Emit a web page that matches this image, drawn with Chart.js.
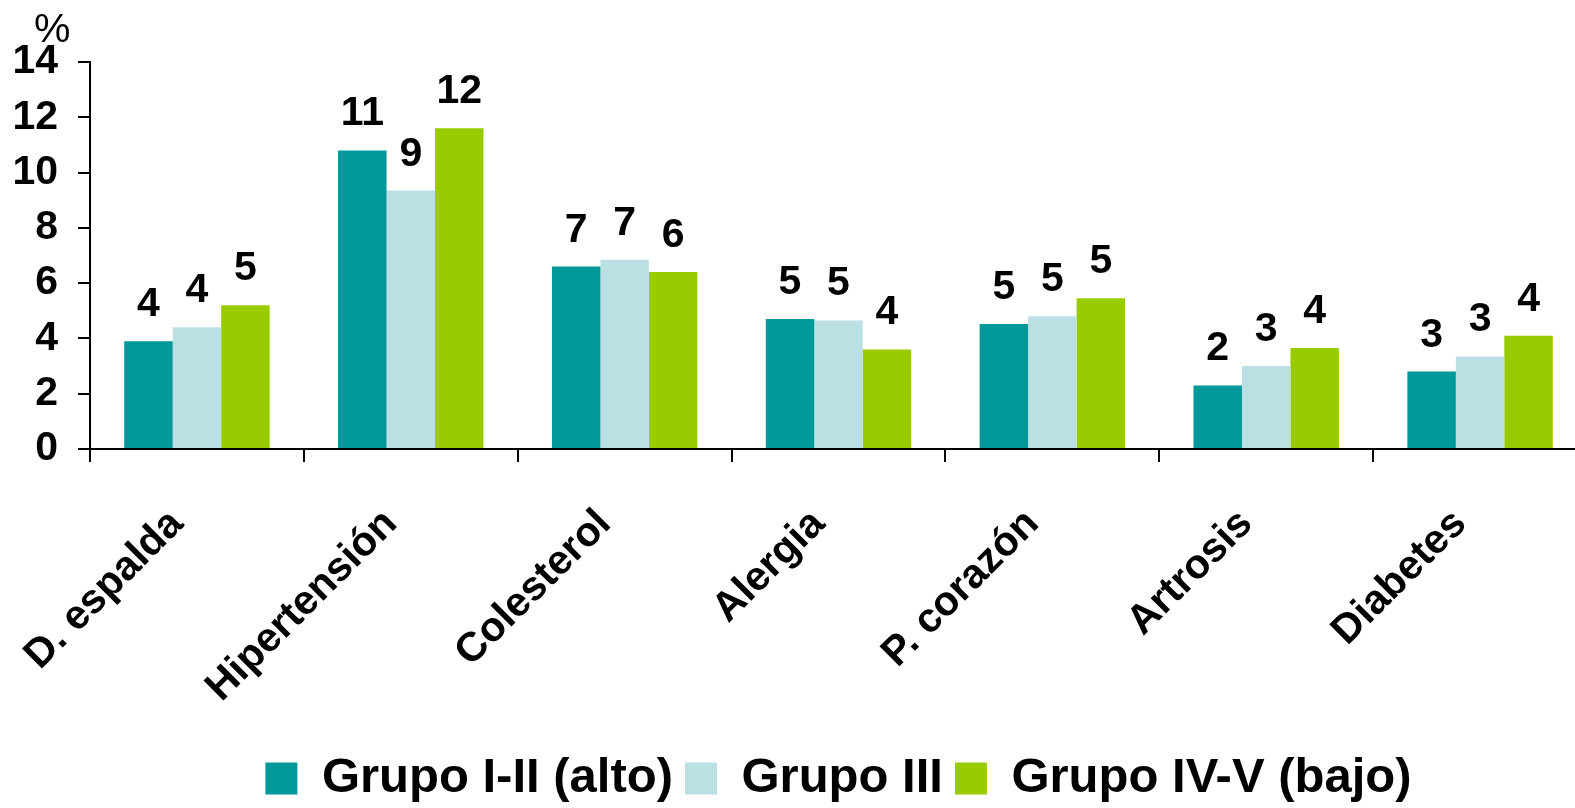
<!DOCTYPE html>
<html>
<head>
<meta charset="utf-8">
<style>
html,body{margin:0;padding:0;overflow:hidden;background:#fff;}
canvas{display:block;}
</style>
<script src="https://cdn.jsdelivr.net/npm/chart.js@4.4.1/dist/chart.umd.min.js"></script>
</head>
<body>
<canvas id="c" width="1587" height="808"></canvas>
<script>
const categories = ['D. espalda', 'Hipertensión', 'Colesterol', 'Alergia', 'P. corazón', 'Artrosis', 'Diabetes'];
const seriesNames = ['Grupo I-II (alto)', 'Grupo III', 'Grupo IV-V (bajo)'];
const grupoAlto  = [3.9, 10.8, 6.6, 4.7, 4.52, 2.3, 2.8];
const grupoMedio = [4.4, 9.35, 6.85, 4.65, 4.8, 3.0, 3.35];
const grupoBajo  = [5.2, 11.6, 6.4, 3.6, 5.45, 3.65, 4.1];
const yTicks = [0, 2, 4, 6, 8, 10, 12, 14];

const FONT = '"Liberation Sans", Arial, Helvetica, sans-serif';
Chart.defaults.color = '#000';

const valueLabels = {
  id: 'valueLabels',
  afterDatasetsDraw(chart) {
    const ctx = chart.ctx;
    ctx.save();
    ctx.font = 'bold 41px ' + FONT;
    ctx.fillStyle = '#000';
    ctx.textAlign = 'center';
    ctx.textBaseline = 'alphabetic';
    chart.data.datasets.forEach((ds, i) => {
      const meta = chart.getDatasetMeta(i);
      meta.data.forEach((bar, j) => {
        ctx.fillText(String(Math.round(ds.data[j])), bar.x, bar.y - 25);
      });
    });
    ctx.restore();
  }
};

const unitLabel = {
  id: 'unitLabel',
  afterDraw(chart) {
    const ctx = chart.ctx;
    ctx.save();
    ctx.font = '41px ' + FONT;
    ctx.fillStyle = '#000';
    ctx.textAlign = 'left';
    ctx.textBaseline = 'alphabetic';
    ctx.fillText('%', chart.scales.y.left + 34, 42);
    ctx.restore();
  }
};

new Chart(document.getElementById('c').getContext('2d'), {
  type: 'bar',
  data: {
    labels: categories,
    datasets: [
      { label: seriesNames[0], data: grupoAlto,  backgroundColor: '#009999', borderWidth: 0 },
      { label: seriesNames[1], data: grupoMedio, backgroundColor: '#BBE0E3', borderWidth: 0 },
      { label: seriesNames[2], data: grupoBajo,  backgroundColor: '#99CC00', borderWidth: 0 }
    ]
  },
  options: {
    responsive: false,
    animation: false,
    layout: { padding: { top: 62, left: 0, right: 0, bottom: -5 } },
    datasets: { bar: { categoryPercentage: 0.68, barPercentage: 1.0 } },
    plugins: {
      legend: {
        position: 'bottom',
        fullSize: false,
        labels: {
          boxWidth: 32, boxHeight: 32, padding: 12, color: '#000',
          font: { family: FONT, size: 49, weight: 'bold' }
        }
      },
      tooltip: { enabled: false },
      title: { display: false }
    },
    scales: {
      x: {
        grid: { display: true, drawOnChartArea: false, drawTicks: true, tickLength: 13, color: '#000', lineWidth: 2 },
        border: { display: true, color: '#000', width: 2 },
        ticks: {
          color: '#000', font: { family: FONT, size: 41, weight: 'bold' },
          minRotation: 45, maxRotation: 45, autoSkip: false, padding: 38, labelOffset: -20
        },
        afterFit(s) { s.height = 293; }
      },
      y: {
        min: 0, max: 14,
        afterBuildTicks(s) { s.ticks = yTicks.map(v => ({ value: v })); },
        grid: { drawOnChartArea: false, drawTicks: true, tickLength: 12, color: '#000', lineWidth: 2 },
        border: { display: true, color: '#000', width: 2 },
        ticks: { color: '#000', font: { family: FONT, size: 41, weight: 'bold' }, padding: 20 },
        afterFit(s) { s.width = 90; }
      }
    }
  },
  plugins: [valueLabels, unitLabel]
});
</script>
</body>
</html>
